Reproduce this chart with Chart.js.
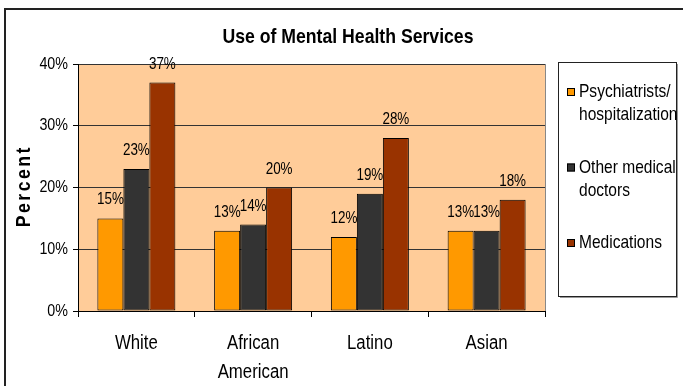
<!DOCTYPE html>
<html>
<head>
<meta charset="utf-8">
<script src="https://cdn.jsdelivr.net/npm/chart.js@4"></script>
<style>
  body { margin: 0; background: #fff; }
  canvas { display: block; }
</style>
</head>
<body>
<canvas id="servicesChart" width="683" height="386"></canvas>
<script>
const categories = ['White', ['African', 'American'], 'Latino', 'Asian'];
const psychiatrists = [15, 13, 12, 13];
const otherDoctors = [23, 14, 19, 13];
const medications = [37, 20, 28, 18];
const seriesNames = ['Psychiatrists/hospitalization', 'Other medical doctors', 'Medications'];
const legendLines = [['Psychiatrists/', 'hospitalization'], ['Other medical', 'doctors'], ['Medications']];
const yTicks = [0, 10, 20, 30, 40];

const FONT = "'Liberation Sans', Arial, sans-serif";
const SQUEEZE = 0.84; // condensed look for all text

function narrowText(ctx, text, x, y, align) {
  ctx.save();
  ctx.translate(x, y);
  ctx.scale(SQUEEZE, 1);
  ctx.textAlign = align;
  ctx.fillText(text, 0, 0);
  ctx.restore();
}

// background, frame, title, tick labels, value labels and the boxed legend
const decor = {
  id: 'decor',
  beforeDraw(chart) {
    const { ctx, chartArea: a } = chart;
    ctx.save();
    ctx.fillStyle = '#fff';
    ctx.fillRect(0, 0, chart.width, chart.height);
    ctx.fillStyle = '#FFCC99';
    ctx.fillRect(a.left, a.top, a.right - a.left, a.bottom - a.top);
    ctx.restore();
  },
  afterDatasetsDraw(chart) {
    const { ctx } = chart;
    ctx.save();
    ctx.fillStyle = '#000';
    ctx.font = '16px ' + FONT;
    ctx.textBaseline = 'alphabetic';
    chart.data.datasets.forEach((ds, i) => {
      chart.getDatasetMeta(i).data.forEach((bar, j) => {
        narrowText(ctx, ds.data[j] + '%', bar.x, bar.y - 14, 'center');
      });
    });
    ctx.restore();
  },
  afterDraw(chart) {
    const { ctx, chartArea: a, scales } = chart;
    ctx.save();
    // right edge of the plot area
    ctx.strokeStyle = '#888';
    ctx.lineWidth = 1;
    ctx.beginPath();
    ctx.moveTo(a.right + 0.5, a.top);
    ctx.lineTo(a.right + 0.5, a.bottom);
    ctx.stroke();

    // outer frame
    ctx.strokeStyle = '#222';
    ctx.lineWidth = 2;
    ctx.strokeRect(5, 9, 720, 420);

    ctx.fillStyle = '#000';
    ctx.textBaseline = 'middle';

    // title
    ctx.font = 'bold 21px ' + FONT;
    narrowText(ctx, 'Use of Mental Health Services', 348, 37, 'center');

    // y tick labels
    ctx.font = '17px ' + FONT;
    scales.y.ticks.forEach((t, i) => {
      narrowText(ctx, t.value + '%', a.left - 10, scales.y.getPixelForTick(i), 'right');
    });

    // category labels
    ctx.font = '20px ' + FONT;
    chart.data.labels.forEach((lab, i) => {
      const x = scales.x.getPixelForTick(i);
      [].concat(lab).forEach((line, k) => narrowText(ctx, line, x, a.bottom + 32 + k * 29, 'center'));
    });

    // y axis title
    ctx.save();
    ctx.translate(24, 187);
    ctx.rotate(-Math.PI / 2);
    ctx.scale(SQUEEZE, 1);
    ctx.letterSpacing = '3px';
    ctx.font = 'bold 21px ' + FONT;
    ctx.textAlign = 'center';
    ctx.fillText('Percent', 1, 0);
    ctx.restore();

    // legend box
    ctx.strokeStyle = '#999';
    ctx.lineWidth = 1;
    ctx.beginPath();
    ctx.moveTo(677.5, 64);
    ctx.lineTo(677.5, 297.5);
    ctx.lineTo(560, 297.5);
    ctx.stroke();
    ctx.strokeStyle = '#222';
    ctx.strokeRect(558.5, 62.5, 118, 234);
    ctx.font = '18.5px ' + FONT;
    chart.data.datasets.forEach((ds, i) => {
      const y = 92 + i * 75.5;
      ctx.fillStyle = ds.backgroundColor;
      ctx.fillRect(567, y - 4, 8, 8);
      ctx.strokeStyle = '#000';
      ctx.strokeRect(567.5, y - 3.5, 7, 7);
      ctx.fillStyle = '#000';
      legendLines[i].forEach((line, k) => narrowText(ctx, line, 579, y + k * 23, 'left'));
    });
    ctx.restore();
  }
};

const barStyle = { borderColor: '#000', borderWidth: 1, borderSkipped: false,
  categoryPercentage: 0.668, barPercentage: 1 };

new Chart(document.getElementById('servicesChart').getContext('2d'), {
  type: 'bar',
  data: {
    labels: categories,
    datasets: [
      { label: seriesNames[0], data: psychiatrists, backgroundColor: '#FF9900', ...barStyle },
      { label: seriesNames[1], data: otherDoctors, backgroundColor: '#333333', ...barStyle },
      { label: seriesNames[2], data: medications, backgroundColor: '#993300', ...barStyle }
    ]
  },
  options: {
    responsive: false,
    animation: false,
    layout: { padding: { left: 0, top: 64, right: 138, bottom: 0 } },
    plugins: { legend: { display: false }, title: { display: false }, tooltip: { enabled: false } },
    scales: {
      x: {
        grid: { offset: true, drawOnChartArea: false, tickLength: 6, color: '#000' },
        border: { color: '#000', width: 1 },
        // labels are drawn condensed by the decor plugin
        ticks: { color: 'rgba(0,0,0,0)', maxRotation: 0, autoSkip: false },
        afterFit(scale) { scale.height = 75; }
      },
      y: {
        min: 0,
        max: 40,
        afterBuildTicks(scale) { scale.ticks = yTicks.map(v => ({ value: v })); },
        ticks: { color: 'rgba(0,0,0,0)', callback: v => v + '%' },
        grid: { color: '#333', tickLength: 5, tickColor: '#000' },
        border: { color: '#000', width: 1 },
        afterFit(scale) { scale.width = 78; }
      }
    }
  },
  plugins: [decor]
});
</script>
</body>
</html>
